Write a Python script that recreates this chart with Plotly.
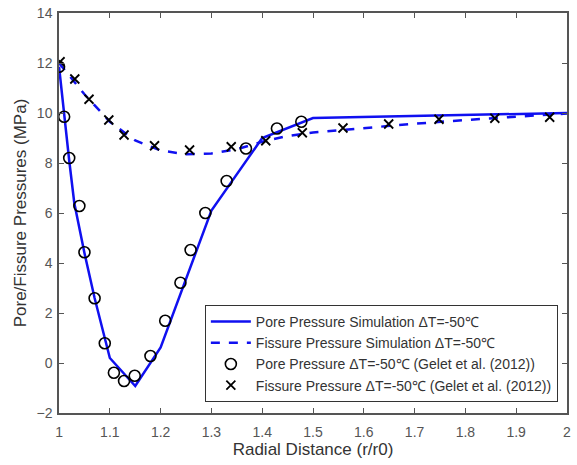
import plotly.graph_objects as go

# Simulation curves
pore_sim_x = [1.0, 1.01, 1.02, 1.03, 1.05, 1.07, 1.09, 1.1, 1.15, 1.2, 1.3, 1.4, 1.5, 2.0]
pore_sim_y = [11.85, 9.9, 8.1, 6.4, 4.4, 2.6, 0.95, 0.2, -0.92, 0.62, 6.1, 9.0, 9.8, 10.0]

fiss_sim_x = [1.0, 1.05, 1.1, 1.15, 1.2, 1.25, 1.3, 1.35, 1.4, 1.45, 1.5, 1.6, 1.7, 1.8, 1.9, 2.0]
fiss_sim_y = [12.0, 10.75, 9.65, 8.9, 8.5, 8.35, 8.38, 8.55, 8.85, 9.08, 9.22, 9.4, 9.57, 9.72, 9.86, 9.98]

# Gelet et al. (2012) data
pore_data_x = [1.0, 1.01, 1.02, 1.04, 1.05, 1.07, 1.09, 1.108, 1.128, 1.149, 1.18, 1.209, 1.239, 1.259, 1.288, 1.33, 1.368, 1.429, 1.477]
pore_data_y = [11.85, 9.85, 8.2, 6.28, 4.43, 2.59, 0.79, -0.39, -0.72, -0.51, 0.28, 1.69, 3.21, 4.52, 6.0, 7.28, 8.58, 9.38, 9.65]

fiss_data_x = [1.002, 1.031, 1.059, 1.098, 1.128, 1.188, 1.257, 1.339, 1.407, 1.479, 1.559, 1.649, 1.748, 1.858, 1.966]
fiss_data_y = [12.05, 11.36, 10.55, 9.72, 9.12, 8.69, 8.52, 8.65, 8.89, 9.21, 9.4, 9.56, 9.75, 9.79, 9.83]

x_ticks = [1.0, 1.1, 1.2, 1.3, 1.4, 1.5, 1.6, 1.7, 1.8, 1.9, 2.0]
x_tick_labels = ["1", "1.1", "1.2", "1.3", "1.4", "1.5", "1.6", "1.7", "1.8", "1.9", "2"]
y_ticks = [-2, 0, 2, 4, 6, 8, 10, 12, 14]

BLUE = "#1010f0"
GRAY = "#555555"

fig = go.Figure()
fig.add_trace(go.Scatter(x=pore_sim_x, y=pore_sim_y, mode="lines",
                         line=dict(color=BLUE, width=2.5),
                         name="Pore Pressure Simulation ΔT=-50℃"))
fig.add_trace(go.Scatter(x=fiss_sim_x, y=fiss_sim_y, mode="lines",
                         line=dict(color=BLUE, width=2.5, dash="dash"),
                         name="Fissure Pressure Simulation ΔT=-50℃"))
fig.add_trace(go.Scatter(x=pore_data_x, y=pore_data_y, mode="markers",
                         marker=dict(symbol="circle-open", size=11, color="black",
                                     line=dict(width=1.6, color="black")),
                         name="Pore Pressure ΔT=-50℃ (Gelet et al. (2012))"))
fig.add_trace(go.Scatter(x=fiss_data_x, y=fiss_data_y, mode="markers",
                         marker=dict(symbol="x-thin-open", size=9, color="black",
                                     line=dict(width=1.8, color="black")),
                         name="Fissure Pressure ΔT=-50℃ (Gelet et al. (2012))"))

axis_common = dict(showline=True, linecolor=GRAY, linewidth=1.5, mirror="allticks",
                   ticks="inside", ticklen=5, tickcolor=GRAY, showgrid=False,
                   zeroline=False, automargin=False,
                   tickfont=dict(size=14, color="#555555"))

fig.update_layout(
    width=577, height=465,
    margin=dict(l=59, r=10, t=13, b=52),
    paper_bgcolor="white", plot_bgcolor="white",
    font=dict(family="Liberation Sans, Arial, sans-serif", color="#333333"),
    xaxis=dict(range=[0.9999, 2.0001], tickvals=x_ticks, ticktext=x_tick_labels,
               ticklabelstandoff=5,
               title=dict(text="Radial Distance (r/r0)", font=dict(size=17, color="#333333"),
                          standoff=4),
               **axis_common),
    yaxis=dict(range=[-2, 14], tickvals=y_ticks, ticklabelstandoff=2,
               title=dict(text="Pore/Fissure Pressures (MPa)", font=dict(size=17, color="#333333"),
                          standoff=6),
               **axis_common),
    legend=dict(x=0.982, y=0.27, xanchor="right", yanchor="top",
                bgcolor="white", bordercolor="#333333", borderwidth=1,
                font=dict(size=14, color="#333333"),
                tracegroupgap=0, itemwidth=40),
    showlegend=True,
)

# Remove the default page margin so the figure fills the window exactly.
fig.write_html("out.html", config={"displayModeBar": False},
               post_script="document.body.style.margin='0';")
